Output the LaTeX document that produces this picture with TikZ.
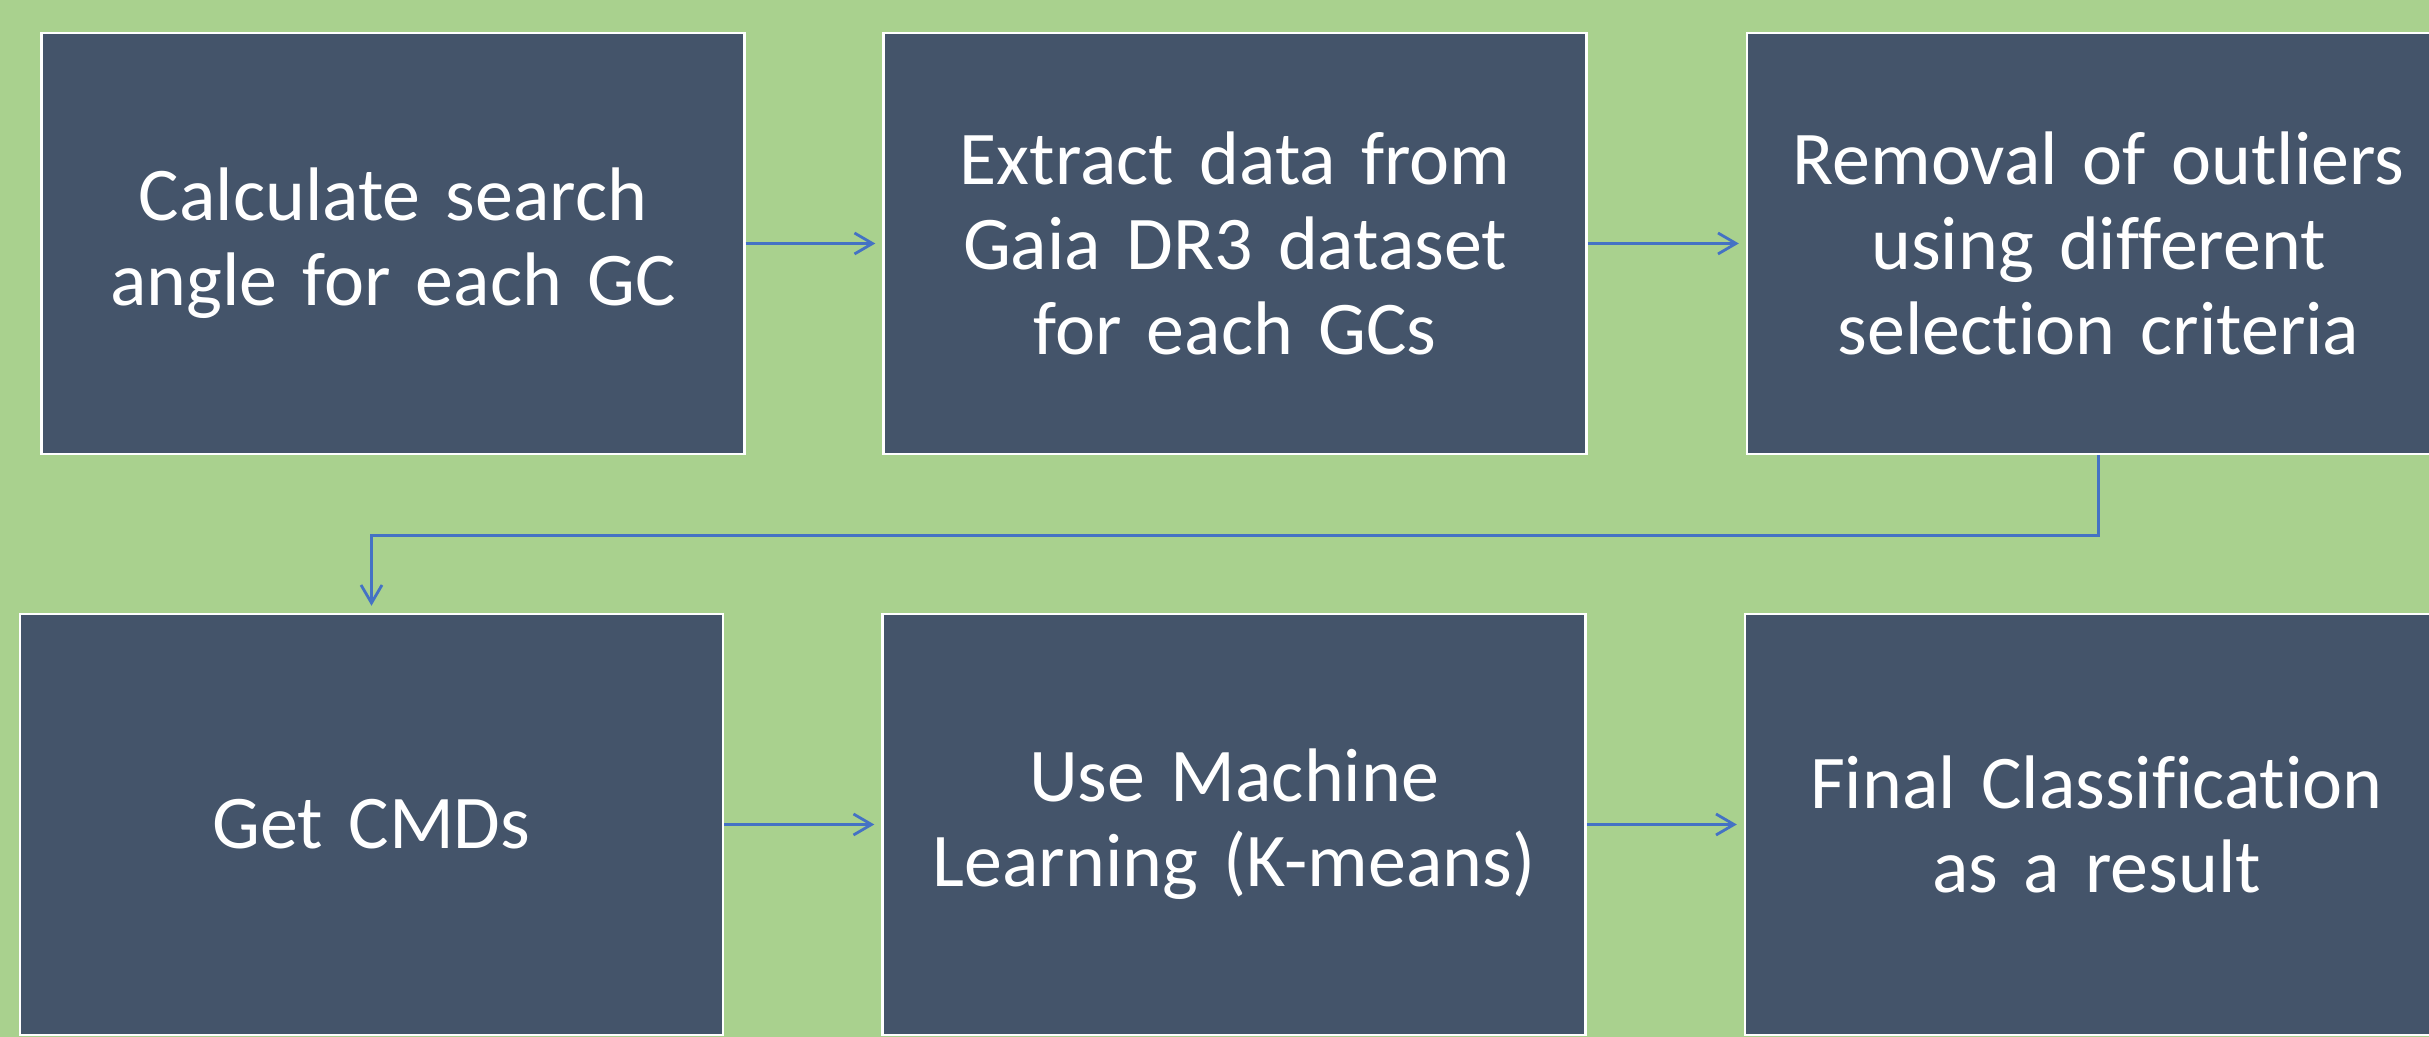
\documentclass[tikz,border=0pt]{standalone}
\usepackage{fontspec}
\setmainfont{Carlito}[Ligatures=NoCommon, WordSpace=0.8]
\usetikzlibrary{arrows.meta}
\definecolor{bg}{HTML}{A9D18E}
\definecolor{boxc}{HTML}{44546A}
\definecolor{arrc}{HTML}{4472C4}
\tikzset{
  stepbox/.style={draw=white, line width=0.7pt, fill=boxc, text=white,
    minimum width=7.03cm, minimum height=4.21cm, text width=6.8cm, align=center,
    inner sep=0pt, font=\fontsize{21.6pt}{24.1pt}\selectfont},
  arr/.style={draw=arrc, line width=0.8pt, -{Straight Barb[length=1.8mm,width=2.1mm]}, shorten >=0.07cm}
}
\begin{document}
\begin{tikzpicture}
\fill[bg] (0,0) rectangle (24.29,10.37);
\useasboundingbox (0,0) rectangle (24.29,10.37);
\node[stepbox] (b1) at (3.93,7.935) {Calculate search\\angle for each GC};
\node[stepbox] (b2) at (12.35,7.935) {Extract data from\\Gaia DR3 dataset\\for each GCs};
\node[stepbox] (b3) at (20.985,7.935) {Removal of outliers\\using different\\selection criteria};
\node[stepbox] (b4) at (3.715,2.125) {Get CMDs};
\node[stepbox] (b5) at (12.34,2.125) {Use Machine\\Learning (K-means)};
\node[stepbox] (b6) at (20.965,2.125) {Final Classification\\as a result};
\draw[arr] (b1.east) -- (b2.west);
\draw[arr] (b2.east) -- (b3.west);
\draw[arr] (b3.south) -- ++(0,-0.8) -| (b4.north);
\draw[arr] (b4.east) -- (b5.west);
\draw[arr] (b5.east) -- (b6.west);
\end{tikzpicture}
\end{document}
